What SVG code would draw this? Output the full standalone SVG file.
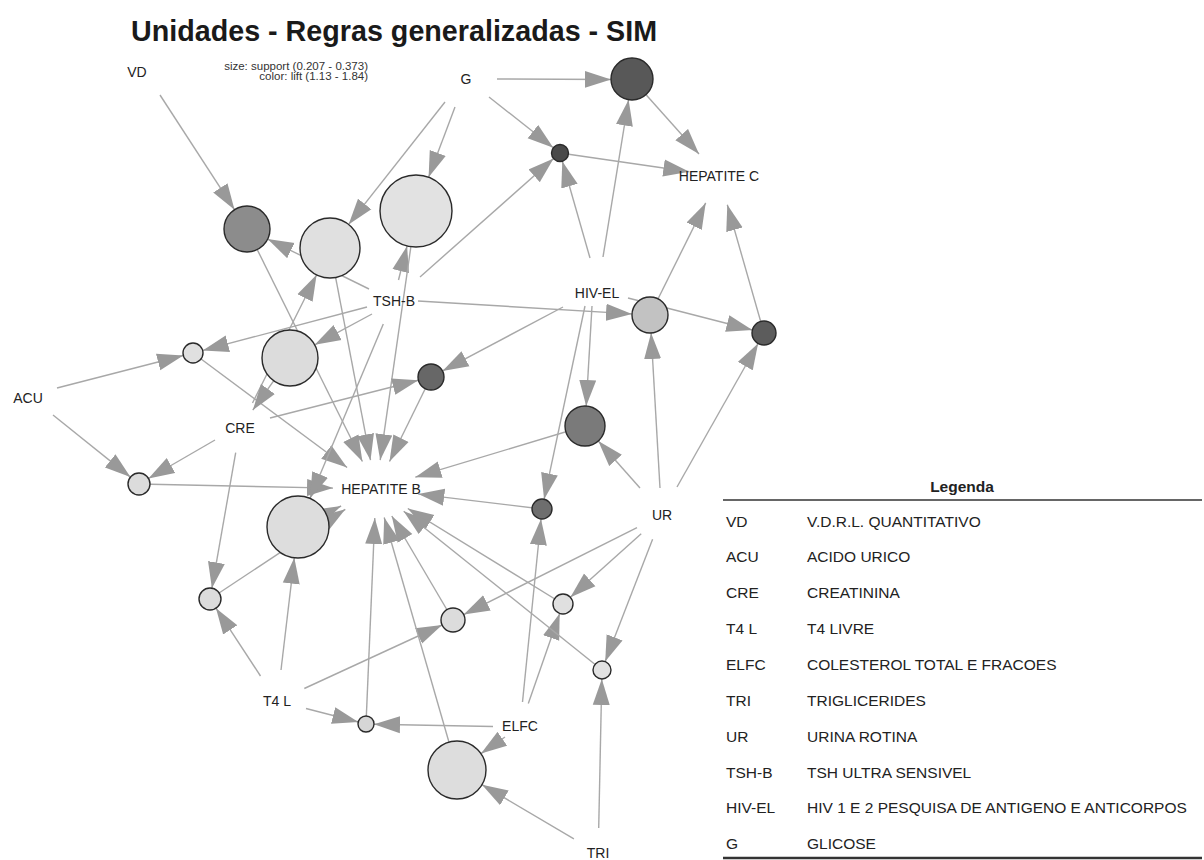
<svg xmlns="http://www.w3.org/2000/svg" width="1204" height="860" viewBox="0 0 1204 860">
  <style>
    .title { font-family: "Liberation Sans", Arial, sans-serif; font-weight: bold; font-size: 28.7px; fill: #1a1a1a; }
    .sub { font-family: "Liberation Sans", Arial, sans-serif; font-size: 11.5px; fill: #333; text-anchor: end; }
    .item { font-family: "Liberation Sans", Arial, sans-serif; font-size: 14px; fill: #222; text-anchor: middle; }
    .edge line { stroke: #a8a8a8; stroke-width: 1.4; fill: none; marker-end: url(#ah); }
    .rule { stroke: #2a2a2a; stroke-width: 1.4; }
    .lg { font-family: "Liberation Sans", Arial, sans-serif; font-size: 15.5px; fill: #222; }
    .lgh { font-family: "Liberation Sans", Arial, sans-serif; font-size: 15.5px; font-weight: bold; fill: #222; text-anchor: middle; }
  </style>
  <defs>
    <marker id="ah" markerUnits="userSpaceOnUse" viewBox="0 0 27 18" markerWidth="27" markerHeight="18" refX="26" refY="9" orient="auto">
      <path d="M0,0.5 L26,9 L0,17.5 z" fill="#999999"/>
    </marker>
  </defs>

  <rect width="1204" height="860" fill="#fff"/>

  <g id="title">
    <text class="title" x="131" y="41">Unidades - Regras generalizadas - SIM</text>
    <text class="sub" x="368" y="70">size: support (0.207 - 0.373)</text>
    <text class="sub" x="368" y="80">color: lift (1.13 - 1.84)</text>
  </g>

  <!-- connectors: lhs item -> rule, rule -> rhs item -->
  <g id="connectors" class="edge">
    <line x1="497" y1="79" x2="611" y2="79.5"/>
    <line x1="603" y1="257" x2="628.6" y2="99.7"/>
    <line x1="632" y1="79" x2="699" y2="154"/>
    <line x1="489" y1="97" x2="553.3" y2="147.7"/>
    <line x1="420" y1="277" x2="553.6" y2="158.6"/>
    <line x1="590" y1="258" x2="562.3" y2="161.2"/>
    <line x1="560" y1="153" x2="689.3" y2="171.7"/>
    <line x1="160" y1="95" x2="234.5" y2="209.7"/>
    <line x1="247" y1="229" x2="362.4" y2="461.5"/>
    <line x1="369" y1="289" x2="267.6" y2="239.1"/>
    <line x1="445" y1="102" x2="348.6" y2="224.4"/>
    <line x1="252.5" y1="403" x2="316.6" y2="274.8"/>
    <line x1="330" y1="248" x2="370.5" y2="460.2"/>
    <line x1="455" y1="107" x2="428.6" y2="177.3"/>
    <line x1="398.5" y1="280" x2="407.1" y2="245.9"/>
    <line x1="416" y1="211" x2="380.2" y2="460.1"/>
    <line x1="418" y1="301" x2="632" y2="313.9"/>
    <line x1="660" y1="488" x2="651.1" y2="333"/>
    <line x1="650" y1="315" x2="705.7" y2="202.9"/>
    <line x1="628" y1="298" x2="752.4" y2="330"/>
    <line x1="677" y1="487" x2="758.1" y2="343.5"/>
    <line x1="764" y1="333" x2="727.3" y2="204.8"/>
    <line x1="57" y1="388" x2="183.3" y2="355.5"/>
    <line x1="367" y1="307" x2="202.7" y2="350.4"/>
    <line x1="193" y1="353" x2="347.1" y2="467.5"/>
    <line x1="372" y1="314" x2="314.7" y2="344.8"/>
    <line x1="290" y1="358" x2="252.8" y2="410.1"/>
    <line x1="270" y1="418" x2="418.4" y2="380.2"/>
    <line x1="563" y1="307" x2="442.5" y2="370.9"/>
    <line x1="431" y1="377" x2="389.5" y2="461.5"/>
    <line x1="592" y1="306" x2="586.2" y2="406"/>
    <line x1="640" y1="488" x2="598.3" y2="441"/>
    <line x1="585" y1="426" x2="415.3" y2="477.2"/>
    <line x1="53" y1="415" x2="130.4" y2="477.1"/>
    <line x1="215" y1="440" x2="148.5" y2="478.5"/>
    <line x1="139" y1="484" x2="333" y2="488.1"/>
    <line x1="585" y1="306" x2="544.1" y2="499.2"/>
    <line x1="522.5" y1="702" x2="541" y2="519"/>
    <line x1="542" y1="509" x2="418.3" y2="494.1"/>
    <line x1="383.3" y1="324" x2="310" y2="498.4"/>
    <line x1="281" y1="670" x2="294.3" y2="557.8"/>
    <line x1="298" y1="527" x2="341.1" y2="506"/>
    <line x1="235.7" y1="452.6" x2="211.9" y2="588.2"/>
    <line x1="260.5" y1="676" x2="216" y2="608.2"/>
    <line x1="210" y1="599" x2="345.3" y2="509.3"/>
    <line x1="637" y1="527.6" x2="463.7" y2="614.6"/>
    <line x1="304.3" y1="688.5" x2="442.1" y2="625"/>
    <line x1="453" y1="620" x2="391.8" y2="516"/>
    <line x1="641.2" y1="533.7" x2="570.4" y2="597.3"/>
    <line x1="528.3" y1="703.4" x2="559.7" y2="613.4"/>
    <line x1="563" y1="604" x2="407.8" y2="508.5"/>
    <line x1="652.6" y1="539.3" x2="605.2" y2="661.6"/>
    <line x1="598.7" y1="828" x2="601.8" y2="679"/>
    <line x1="602" y1="670" x2="403.7" y2="511.2"/>
    <line x1="306" y1="708.5" x2="358.3" y2="722"/>
    <line x1="493" y1="726.5" x2="374" y2="724.2"/>
    <line x1="366" y1="724" x2="374.8" y2="518"/>
    <line x1="505" y1="737" x2="481" y2="753.6"/>
    <line x1="573.9" y1="838.8" x2="482" y2="784.7"/>
    <line x1="457" y1="770" x2="384.2" y2="517.5"/>
  </g>

  <!-- rule vertices: size = support, shade = lift -->
  <g id="rules">
    <g id="rule-1"><circle class="rule" cx="632" cy="79" r="21" fill="#585858"/></g>
    <g id="rule-2"><circle class="rule" cx="560" cy="153" r="8.5" fill="#4a4a4a"/></g>
    <g id="rule-3"><circle class="rule" cx="247" cy="229" r="23" fill="#8c8c8c"/></g>
    <g id="rule-4"><circle class="rule" cx="330" cy="248" r="30" fill="#e0e0e0"/></g>
    <g id="rule-5"><circle class="rule" cx="416" cy="211" r="36" fill="#e2e2e2"/></g>
    <g id="rule-6"><circle class="rule" cx="650" cy="315" r="18" fill="#c2c2c2"/></g>
    <g id="rule-7"><circle class="rule" cx="764" cy="333" r="12" fill="#5c5c5c"/></g>
    <g id="rule-8"><circle class="rule" cx="193" cy="353" r="10" fill="#e0e0e0"/></g>
    <g id="rule-9"><circle class="rule" cx="290" cy="358" r="28" fill="#dcdcdc"/></g>
    <g id="rule-10"><circle class="rule" cx="431" cy="377" r="13" fill="#676767"/></g>
    <g id="rule-11"><circle class="rule" cx="585" cy="426" r="20" fill="#7a7a7a"/></g>
    <g id="rule-12"><circle class="rule" cx="139" cy="484" r="11" fill="#dcdcdc"/></g>
    <g id="rule-13"><circle class="rule" cx="542" cy="509" r="10" fill="#6e6e6e"/></g>
    <g id="rule-14"><circle class="rule" cx="298" cy="527" r="31" fill="#dddddd"/></g>
    <g id="rule-15"><circle class="rule" cx="210" cy="599" r="11" fill="#dcdcdc"/></g>
    <g id="rule-16"><circle class="rule" cx="453" cy="620" r="12" fill="#dcdcdc"/></g>
    <g id="rule-17"><circle class="rule" cx="563" cy="604" r="10" fill="#e0e0e0"/></g>
    <g id="rule-18"><circle class="rule" cx="602" cy="670" r="9" fill="#e2e2e2"/></g>
    <g id="rule-19"><circle class="rule" cx="366" cy="724" r="8" fill="#d6d6d6"/></g>
    <g id="rule-20"><circle class="rule" cx="457" cy="770" r="29" fill="#dddddd"/></g>
  </g>

  <!-- item vertices -->
  <g id="items">
    <g id="item-VD"><text class="item" x="137" y="77">VD</text></g>
    <g id="item-G"><text class="item" x="466" y="84">G</text></g>
    <g id="item-HEPATITE-C"><text class="item" x="719" y="181">HEPATITE C</text></g>
    <g id="item-TSH-B"><text class="item" x="394" y="306">TSH-B</text></g>
    <g id="item-HIV-EL"><text class="item" x="597" y="298">HIV-EL</text></g>
    <g id="item-ACU"><text class="item" x="28" y="403">ACU</text></g>
    <g id="item-CRE"><text class="item" x="240" y="433">CRE</text></g>
    <g id="item-HEPATITE-B"><text class="item" x="381" y="494">HEPATITE B</text></g>
    <g id="item-UR"><text class="item" x="662" y="520">UR</text></g>
    <g id="item-T4L"><text class="item" x="277" y="706">T4 L</text></g>
    <g id="item-ELFC"><text class="item" x="520" y="731">ELFC</text></g>
    <g id="item-TRI"><text class="item" x="598" y="858">TRI</text></g>
  </g>

  <g id="legend">
    <text class="lgh" x="962" y="492">Legenda</text>
    <line x1="723" y1="500" x2="1202" y2="500" stroke="#333" stroke-width="1.6"/>
    <text class="lg" x="726" y="527">VD</text><text class="lg" x="807" y="527">V.D.R.L. QUANTITATIVO</text>
    <text class="lg" x="726" y="562">ACU</text><text class="lg" x="807" y="562">ACIDO URICO</text>
    <text class="lg" x="726" y="598">CRE</text><text class="lg" x="807" y="598">CREATININA</text>
    <text class="lg" x="726" y="634">T4 L</text><text class="lg" x="807" y="634">T4 LIVRE</text>
    <text class="lg" x="726" y="670">ELFC</text><text class="lg" x="807" y="670">COLESTEROL TOTAL E FRACOES</text>
    <text class="lg" x="726" y="706">TRI</text><text class="lg" x="807" y="706">TRIGLICERIDES</text>
    <text class="lg" x="726" y="742">UR</text><text class="lg" x="807" y="742">URINA ROTINA</text>
    <text class="lg" x="726" y="778">TSH-B</text><text class="lg" x="807" y="778">TSH ULTRA SENSIVEL</text>
    <text class="lg" x="726" y="813">HIV-EL</text><text class="lg" x="807" y="813">HIV 1 E 2 PESQUISA DE ANTIGENO E ANTICORPOS</text>
    <text class="lg" x="726" y="849">G</text><text class="lg" x="807" y="849">GLICOSE</text>
    <line x1="723" y1="858" x2="1202" y2="858" stroke="#333" stroke-width="2.6"/>
  </g>
</svg>
